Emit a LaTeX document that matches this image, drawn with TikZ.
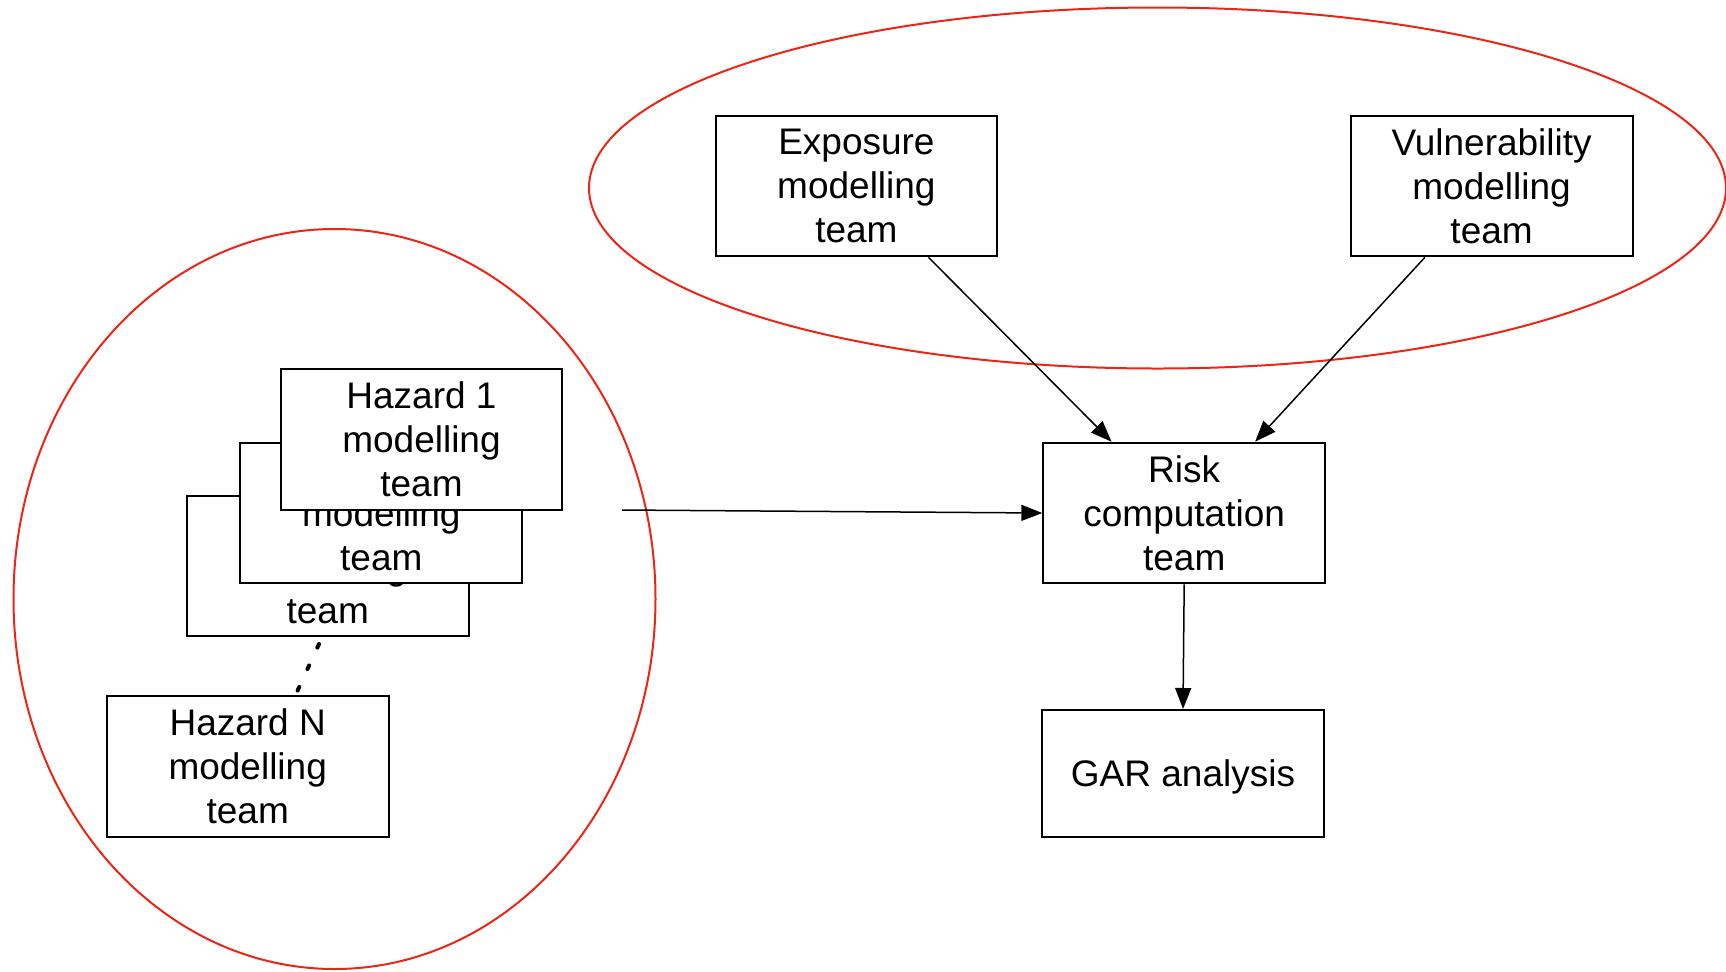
\documentclass[tikz,border=0pt]{standalone}
\usepackage{fontspec}
\setmainfont{Liberation Sans}
\usetikzlibrary{shapes.geometric,arrows.meta,calc}
\definecolor{grpred}{RGB}{238,36,20}
\begin{document}
\begin{tikzpicture}[x=0.5pt,y=-0.5pt,
  box/.style={draw=black,line width=1pt,fill=white,minimum width=140.9pt,minimum height=70.3pt,inner sep=0pt,align=center,font=\fontsize{18.5}{22}\selectfont},
  grp/.style={draw=grpred,line width=1pt,ellipse,inner sep=0pt},
  link/.style={draw=black,line width=0.75pt,-{Triangle[length=10.5pt,width=8pt]}},
  dots/.style={line width=2pt,line cap=round,dash pattern=on 2pt off 9.8pt}]
\useasboundingbox (0,0) rectangle (1726,971);
% group outlines
\node[grp,minimum width=568.5pt,minimum height=180.5pt] (topgrp) at (1157.5,188) {};
\node[grp,minimum width=321pt,minimum height=370pt] (leftgrp) at (334.5,599) {};
% boxes
\node[box] (expo) at (856.4,186) {Exposure\\modelling\\team};
\node[box] (vuln) at (1491.6,186) {Vulnerability\\modelling\\team};
\node[box] (risk) at (1184.2,513) {Risk\\computation\\team};
\node[box,minimum height=63.3pt,text depth=0pt] (gar) at (1183,773.3) {GAR analysis};
\node[box] (hz3) at (327.7,566) {\vphantom{Hazard}\\modelling\\team};
\node[box] (hz2) at (381.3,513) {\vphantom{Hazard}\\modelling\\team};
\node[box] (hz1) at (421.5,439.2) {Hazard 1\\modelling\\team};
\node[box] (hzN) at (247.7,766.7) {Hazard N\\modelling\\team};
% connectors
\coordinate (hzout) at (622,510);
\draw[link] (hzout) -- (risk.west);
\draw[link] ($(expo.south west)!0.754!(expo.south east)$) -- ($(risk.north west)!0.244!(risk.north east)$);
\draw[link] ($(vuln.south west)!0.265!(vuln.south east)$) -- ($(risk.north west)!0.75!(risk.north east)$);
\draw[link] (risk.south) -- (gar.north);
\coordinate (d1) at (319,644);
\coordinate (d2) at (296,694);
\draw[dots] (d1) -- (d2);
\end{tikzpicture}
\end{document}
